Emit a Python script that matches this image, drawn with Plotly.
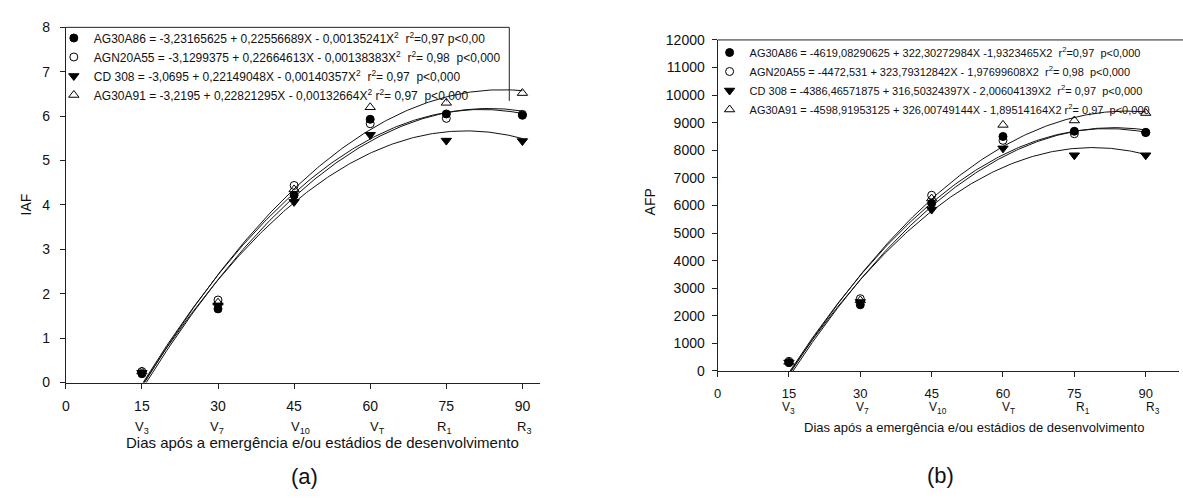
import numpy as np
import plotly.graph_objects as go

# ---------------- data ----------------
days = [15, 30, 45, 60, 75, 90]
stages = ["V<sub>3</sub>", "V<sub>7</sub>", "V<sub>10</sub>", "V<sub>T</sub>", "R<sub>1</sub>", "R<sub>3</sub>"]
hybrids = ["AG30A86", "AGN20A55", "CD 308", "AG30A91"]

# (a) IAF observed means
iaf_ag30a86 = [0.20, 1.66, 4.22, 5.93, 6.05, 6.02]
iaf_agn20a55 = [0.25, 1.86, 4.44, 5.83, 5.95, 6.04]
iaf_cd308 = [0.22, 1.74, 4.07, 5.58, 5.45, 5.44]
iaf_ag30a91 = [0.25, 1.80, 4.35, 6.20, 6.30, 6.52]

# (b) AFP observed means
afp_ag30a86 = [300, 2400, 6080, 8500, 8690, 8650]
afp_agn20a55 = [350, 2620, 6370, 8360, 8600, 8640]
afp_cd308 = [310, 2500, 5850, 8070, 7820, 7820]
afp_ag30a91 = [330, 2560, 6250, 8920, 9080, 9350]

# regression coefficients printed in the legends (b0 + b1 X + b2 X^2)
iaf_b0 = [-3.23165625, -3.1299375, -3.0695, -3.2195]
iaf_b1 = [0.22556689, 0.22664613, 0.22149048, 0.22821295]
iaf_b2 = [-0.00135241, -0.00138383, -0.00140357, -0.00132664]

afp_b0 = [-4619.08290625, -4472.531, -4386.46571875, -4598.91953125]
afp_b1 = [322.30272984, 323.79312842, 316.50324397, 326.00749144]
afp_b2 = [-1.9323465, -1.97699608, -2.00604139, -1.89514164]

iaf_labels = [
    "AG30A86 = -3,23165625 + 0,22556689X - 0,00135241X<sup>2</sup>  r<sup>2</sup>=0,97 p&lt;0,00",
    "AGN20A55 = -3,1299375 + 0,22664613X - 0,00138383X<sup>2</sup>  r<sup>2</sup>= 0,98  p&lt;0,000",
    "CD 308 = -3,0695 + 0,22149048X - 0,00140357X<sup>2</sup>  r<sup>2</sup>= 0,97  p&lt;0,000",
    "AG30A91 = -3,2195 + 0,22821295X - 0,00132664X<sup>2</sup> r<sup>2</sup>= 0,97  p&lt;0,000",
]
afp_labels = [
    "AG30A86 = -4619,08290625 + 322,30272984X -1,9323465X2  r<sup>2</sup>=0,97  p&lt;0,000",
    "AGN20A55 = -4472,531 + 323,79312842X - 1,97699608X2  r<sup>2</sup>= 0,98  p&lt;0,000",
    "CD 308 = -4386,46571875 + 316,50324397X - 2,00604139X2  r<sup>2</sup>= 0,97  p&lt;0,000",
    "AG30A91 = -4598,91953125 + 326,00749144X - 1,89514164X2 r<sup>2</sup>= 0,97  p&lt;0,000",
]

iaf_yticks = [0, 1, 2, 3, 4, 5, 6, 7, 8]
afp_yticks = [0, 1000, 2000, 3000, 4000, 5000, 6000, 7000, 8000, 9000, 10000, 11000, 12000]
xticks = [0, 15, 30, 45, 60, 75, 90]

# ---------------- styles ----------------
W, H = 1183, 499
FONT = "Arial, 'Liberation Sans', sans-serif"
symbols = ["circle", "circle-open", "triangle-down", "triangle-up-open"]
msizes = [8, 8, 9, 9]


def px(x):
    return x / W


def py(y):
    return 1 - y / H


fig = go.Figure()

iaf_obs = [iaf_ag30a86, iaf_agn20a55, iaf_cd308, iaf_ag30a91]
afp_obs = [afp_ag30a86, afp_agn20a55, afp_cd308, afp_ag30a91]

xc = np.linspace(15, 90, 200)

# fitted curves (from the printed regression coefficients)
for i in range(4):
    fig.add_trace(go.Scatter(x=xc, y=iaf_b0[i] + iaf_b1[i] * xc + iaf_b2[i] * xc ** 2,
                             mode="lines", line=dict(color="#111", width=1),
                             xaxis="x", yaxis="y", showlegend=False, hoverinfo="skip"))
    fig.add_trace(go.Scatter(x=xc, y=afp_b0[i] + afp_b1[i] * xc + afp_b2[i] * xc ** 2,
                             mode="lines", line=dict(color="#111", width=1),
                             xaxis="x2", yaxis="y2", showlegend=False, hoverinfo="skip"))

# observed points
for i in range(4):
    mk = dict(symbol=symbols[i], size=msizes[i], color="black", line=dict(color="black", width=1))
    fig.add_trace(go.Scatter(x=days, y=iaf_obs[i], mode="markers", marker=mk, name=iaf_labels[i],
                             xaxis="x", yaxis="y", legend="legend", cliponaxis=False))
    fig.add_trace(go.Scatter(x=days, y=afp_obs[i], mode="markers", marker=mk, name=afp_labels[i],
                             xaxis="x2", yaxis="y2", legend="legend2", cliponaxis=False))

axis_common = dict(showline=True, linecolor="#222", linewidth=1, ticks="outside", ticklen=5,
                   tickcolor="#222", tickwidth=1, showgrid=False, zeroline=False)

fig.update_layout(
    width=W, height=H, autosize=False,
    margin=dict(l=0, r=0, t=0, b=0),
    paper_bgcolor="white", plot_bgcolor="white",
    font=dict(family=FONT, color="#111"),
    xaxis=dict(domain=[px(62), px(538)], range=[0, 93.5], tickvals=xticks, anchor="y",
               ticklabelstandoff=6, tickfont=dict(size=14), **axis_common),
    yaxis=dict(domain=[py(387), py(20)], range=[0, 8], tickvals=iaf_yticks, anchor="x",
               ticklabelstandoff=7, tickfont=dict(size=14), **axis_common),
    xaxis2=dict(domain=[px(716), px(1179)], range=[0, 97], tickvals=xticks, anchor="y2",
                ticklabelstandoff=5, tickfont=dict(size=13), **axis_common),
    yaxis2=dict(domain=[py(375), py(33)], range=[0, 12000], tickvals=afp_yticks, anchor="x2",
                tickformat="d", ticklabelstandoff=4, tickfont=dict(size=14), **axis_common),
    legend=dict(x=px(50), y=py(16), xanchor="left", yanchor="top", bgcolor="rgba(0,0,0,0)",
                borderwidth=0, font=dict(family=FONT, size=12, color="#111"), itemwidth=30),
    legend2=dict(x=px(708), y=py(31), xanchor="left", yanchor="top", bgcolor="rgba(0,0,0,0)",
                 borderwidth=0, font=dict(family=FONT, size=11, color="#111"), itemwidth=30),
    shapes=[
        dict(type="line", xref="paper", yref="paper", x0=px(62), x1=px(507), y0=py(20), y1=py(20),
             line=dict(color="#222", width=1)),
        dict(type="line", xref="paper", yref="paper", x0=px(507), x1=px(507), y0=py(20), y1=py(96),
             line=dict(color="#222", width=1)),
        dict(type="line", xref="paper", yref="paper", x0=px(716), x1=px(1183), y0=py(33), y1=py(33),
             line=dict(color="#222", width=1)),
    ],
)

ann = []
# stage labels
shifts_a = [0, -1, 6, 7, -2, 2]
shifts_b = [0, 2, 6, 6, 9, 7]
for i, d in enumerate(days):
    ann.append(dict(x=d, y=py(433), xref="x", yref="paper", text=stages[i], showarrow=False,
                    xanchor="center", yanchor="middle", xshift=shifts_a[i], font=dict(size=13)))
    ann.append(dict(x=d, y=py(413), xref="x2", yref="paper", text=stages[i], showarrow=False,
                    xanchor="center", yanchor="middle", xshift=shifts_b[i], font=dict(size=12)))

title_x = "Dias após a emergência e/ou estádios de desenvolvimento"
mid = dict(xanchor="center", yanchor="middle", showarrow=False, xref="paper", yref="paper")
ann += [
    dict(x=px(320), y=py(449), text=title_x, font=dict(size=15), **mid),
    dict(x=px(973), y=py(433), text=title_x, font=dict(size=13), **mid),
    dict(x=px(302), y=py(484), text="(a)", font=dict(size=22), **mid),
    dict(x=px(940), y=py(483), text="(b)", font=dict(size=22), **mid),
    dict(x=px(23), y=py(203), text="IAF", textangle=-90, font=dict(size=14), **mid),
    dict(x=px(648), y=py(200), text="AFP", textangle=-90, font=dict(size=14), **mid),
]
fig.update_layout(annotations=ann)

fig.write_html("out.html",
               post_script="document.body.style.margin='0px';document.body.style.overflow='hidden';")
